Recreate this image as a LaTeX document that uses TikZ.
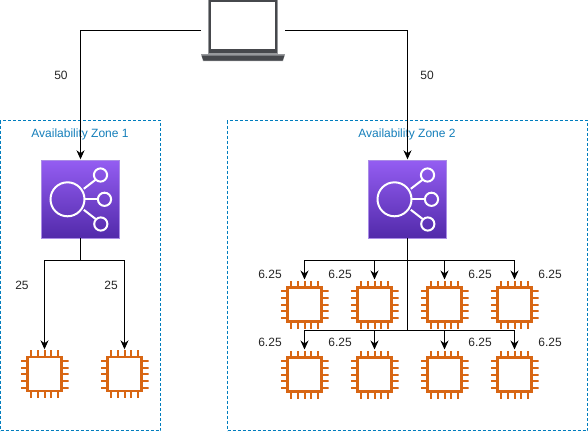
\documentclass[tikz,border=0pt]{standalone}
\usepackage{fontspec}
\setmainfont{Liberation Sans}
\usepackage{xcolor}
\definecolor{zona}{RGB}{0,125,190}
\definecolor{zonatxt}{RGB}{20,126,186}
\definecolor{chipcor}{RGB}{216,102,19}
\definecolor{roxoa}{RGB}{148,93,242}
\definecolor{roxob}{RGB}{82,42,170}
\definecolor{roxoc}{RGB}{170,140,230}
\definecolor{telaa}{RGB}{70,72,76}
\definecolor{telab}{RGB}{150,152,155}
\usepackage{tikz}
\usetikzlibrary{arrows.meta, positioning}

\begin{document}
\begin{tikzpicture}[
    x=1pt, y=-1pt,
    font=\fontsize{12}{14}\selectfont,
    zone/.style={draw=zona, line width=1pt, dash pattern=on 3pt off 2pt},
    zonelabel/.style={text=zonatxt, inner sep=0pt},
    rate/.style={inner sep=0pt, text=black!85},
    link/.style={-{Stealth[length=9pt,width=8pt]}, black, line width=1pt, shorten >=1pt},
    chip/.style={rectangle, minimum size=48pt, inner sep=0pt, outer sep=0pt,
      path picture={
        \begin{scope}[shift={(path picture bounding box.center)}, draw=chipcor]
          \draw[line width=2.2pt] (-17,-17) rectangle (17,17);
          \foreach \p in {-13.3,-6.65,0,6.65,13.3} {
            \draw[line width=2pt] (\p,-17) -- (\p,-24);
            \draw[line width=2pt] (\p,17) -- (\p,24);
            \draw[line width=2pt] (-17,\p) -- (-24,\p);
            \draw[line width=2pt] (17,\p) -- (24,\p);
          }
        \end{scope}
      }},
    balancer/.style={rectangle, minimum size=78pt, inner sep=0pt, outer sep=0pt,
      draw=roxoc, line width=1pt, top color=roxoa, bottom color=roxob,
      path picture={
        \begin{scope}[shift={(path picture bounding box.center)}, draw=white, line width=2pt]
          \draw (-13,0) circle (17);
          \draw (20,-24.3) circle (6.6);
          \draw (24,0) circle (6.6);
          \draw (20.3,24.7) circle (6.6);
          \draw (4,0) -- (17.4,0);
          \draw (3.3,-10.5) -- (15,-19.5);
          \draw (3.3,10.5) -- (15.3,19.8);
        \end{scope}
      }},
    computer/.style={rectangle, minimum width=84pt, minimum height=61pt, inner sep=0pt, outer sep=0pt,
      path picture={
        \begin{scope}[shift={(path picture bounding box.center)}]
          \fill[telab] (-35.5,-30.5) rectangle (34.5,23);
          \fill[telaa] (-34.5,-30.5) rectangle (33.5,22.5);
          \fill[white] (-32.5,-28.5) rectangle (31.5,18);
          \fill[telab] (-42,23.5) -- (42,23.5) -- (40,30.5) -- (-40,30.5) -- cycle;
          \fill[telaa] (-41.5,25) -- (41.5,25) -- (39.5,30) -- (-39.5,30) -- cycle;
        \end{scope}
      }}
  ]
  \useasboundingbox (0,0) rectangle (588,431);

  % Zones
  \node[zone, minimum width=160pt, minimum height=310pt, inner sep=0pt] (zone1) at (80.5,275.5) {};
  \node[zone, minimum width=360pt, minimum height=310pt, inner sep=0pt] (zone2) at (407.5,275.5) {};
  \node[zonelabel] (zone1txt) at (80,134) {Availability Zone 1};
  \node[zonelabel] (zone2txt) at (407,134) {Availability Zone 2};

  % Laptop and balancers
  \node[computer] (laptop) at (243,30.5) {};
  \node[balancer] (lb1) at (80.5,199.3) {};
  \node[balancer] (lb2) at (407.5,199.3) {};

  % Instances
  \node[chip] (c1) at (44.5,374.3) {};
  \node[chip] (c2) at (124.5,374.3) {};
  \foreach \x/\n in {304.5/1,374.5/2,444.5/3,514.5/4} {
    \node[chip] (t\n) at (\x,304.5) {};
    \node[chip] (b\n) at (\x,374.5) {};
  }

  % Bus points
  \coordinate (bus1) at (80.5,260.5);
  \coordinate (bus2) at (407.5,260.5);
  \coordinate (bus3) at (407.5,330.5);

  % Links
  \draw[link] (laptop.west) -| (lb1.north);
  \draw[link] (laptop.east) -| (lb2.north);
  \foreach \n in {c1,c2} {
    \draw[link] (lb1.south) -- (bus1) -| (\n.north);
  }
  \foreach \n in {t1,t2,t3,t4} {
    \draw[link] (lb2.south) -- (bus2) -| (\n.north);
  }
  \foreach \n in {b1,b2,b3,b4} {
    \draw[link] (lb2.south) -- (bus3) -| (\n.north);
  }

  % Rates
  \node[rate] (r1) at (61,75) {50};
  \node[rate] (r2) at (427,75) {50};
  \node[rate] (r3) at (22,285) {25};
  \node[rate] (r4) at (111,285) {25};
  \foreach \x/\n in {270/1,340/2,480/3,550/4} {
    \node[rate] (rt\n) at (\x,274.7) {6.25};
    \node[rate] (rb\n) at (\x,342.7) {6.25};
  }
\end{tikzpicture}
\end{document}
